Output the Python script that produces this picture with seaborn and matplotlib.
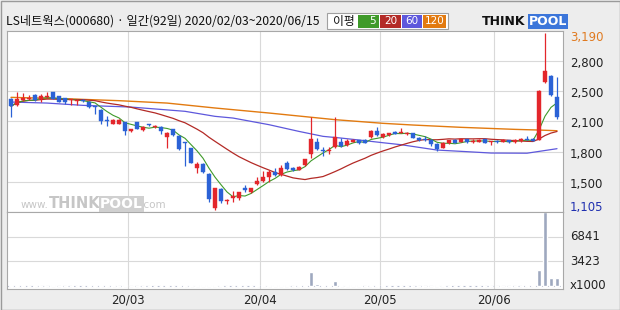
import numpy as np
import pandas as pd
import matplotlib
matplotlib.use("Agg")
import matplotlib.pyplot as plt
import matplotlib.patches as mpatches
import matplotlib.transforms as mtransforms
import seaborn as sns

# ---------------- data ----------------
opens = [2418, 2340, 2405, 2410, 2465, 2415, 2440, 2495, 2445, 2425,
         2400, 2395, 2405, 2385, 2330, 2290, 2160, 2125, 2125, 2145,
         2035, 2145, 2045, 2115, 2085, 2090, 1968, 2060, 1985, 1900,
         1840, 1605, 1650, 1535, 1133, 1357, 1215, 1250, 1250, 1370,
         1320, 1415, 1455, 1495, 1555, 1520, 1662, 1605, 1585, 1640,
         1768, 1905, 1810, 1800, 1846, 1910, 1870, 1915, 1930, 1935,
         1964, 2035, 1965, 1990, 2030, 2015, 2000, 2010, 1960, 1935,
         1935, 1890, 1840, 1895, 1935, 1910, 1940, 1915, 1915, 1940,
         1910, 1925, 1910, 1930, 1905, 1920, 1940, 1950, 1937, 2614,
         2689, 2438]
highs = [2425, 2493, 2490, 2465, 2475, 2475, 2495, 2500, 2450, 2430,
         2420, 2415, 2415, 2390, 2335, 2295, 2220, 2180, 2175, 2150,
         2065, 2150, 2095, 2120, 2115, 2095, 2025, 2065, 1990, 1905,
         1845, 1680, 1660, 1545, 1375, 1370, 1240, 1330, 1325, 1410,
         1375, 1495, 1565, 1585, 1610, 1640, 1690, 1615, 1625, 1715,
         2198, 1955, 1850, 1850, 2198, 1955, 1940, 1945, 1935, 1940,
         2055, 2080, 2010, 2015, 2035, 2075, 2025, 2015, 1965, 1980,
         1940, 1895, 1905, 1935, 1940, 1950, 1945, 1940, 1940, 1945,
         1925, 1930, 1940, 1935, 1940, 1960, 1975, 1955, 2525, 3190,
         2700, 2670]
lows = [2199, 2330, 2395, 2400, 2395, 2380, 2430, 2410, 2380, 2355,
        2350, 2340, 2380, 2310, 2240, 2120, 2093, 2120, 2120, 1995,
        2030, 2060, 2040, 2095, 2075, 2000, 1845, 1985, 1815, 1625,
        1660, 1545, 1550, 1210, 1105, 1195, 1180, 1205, 1230, 1320,
        1310, 1400, 1440, 1440, 1510, 1510, 1580, 1565, 1575, 1625,
        1720, 1810, 1750, 1770, 1840, 1850, 1860, 1905, 1890, 1895,
        1960, 1980, 1955, 1985, 2000, 2010, 1995, 1955, 1925, 1920,
        1860, 1805, 1835, 1890, 1895, 1905, 1900, 1900, 1910, 1895,
        1880, 1900, 1905, 1900, 1900, 1915, 1930, 1920, 1930, 2600,
        2455, 2185]
closes = [2328, 2418, 2425, 2425, 2405, 2445, 2450, 2418, 2385, 2385,
          2410, 2405, 2390, 2320, 2320, 2152, 2155, 2170, 2165, 2035,
          2060, 2065, 2090, 2110, 2095, 2035, 2015, 1990, 1830, 1895,
          1665, 1650, 1555, 1245, 1369, 1220, 1225, 1270, 1320, 1340,
          1370, 1455, 1500, 1560, 1525, 1605, 1595, 1575, 1615, 1710,
          1945, 1830, 1805, 1810, 1964, 1860, 1925, 1935, 1895, 1900,
          2042, 1990, 2003, 2010, 2005, 2030, 2015, 1960, 1930, 1928,
          1885, 1830, 1900, 1930, 1900, 1945, 1905, 1925, 1935, 1900,
          1915, 1905, 1935, 1905, 1935, 1945, 1935, 1925, 2512, 2747,
          2465, 2199]
volumes = [90, 80, 70, 60, 70, 60, 60, 70, 60, 60,
           60, 50, 50, 70, 80, 110, 90, 70, 60, 90,
           60, 60, 50, 50, 50, 60, 80, 60, 90, 110,
           100, 90, 80, 120, 130, 90, 60, 60, 70, 60,
           60, 80, 90, 80, 70, 90, 80, 60, 70, 110,
           1870, 300, 120, 110, 700, 120, 90, 80, 70, 60,
           160, 90, 70, 60, 60, 60, 50, 60, 60, 50,
           60, 80, 70, 60, 50, 50, 60, 50, 50, 60,
           50, 50, 50, 60, 50, 60, 70, 80, 2250, 10262,
           1170, 1170]

ma60_idx = [0, 6, 12, 20, 29, 34, 37, 43, 48, 52, 55, 59, 62, 65, 71, 76, 80, 86, 91]
ma60_val = [2379, 2367, 2340, 2320, 2270, 2211, 2191, 2113, 2034, 1976, 1956, 1925,
            1901, 1878, 1815, 1796, 1780, 1778, 1831]
ma120_idx = [0, 9, 18, 26, 34, 43, 54, 62, 67, 75, 84, 88, 91]
ma120_val = [2434, 2418, 2395, 2367, 2309, 2250, 2172, 2129, 2109, 2082, 2058, 2050, 2042]

month_labels = ["20/03", "20/04", "20/05", "20/06"]
month_start_idx = [20, 42, 62, 81]
price_tick_labels = ["2,800", "2,500", "2,100", "1,800", "1,500"]
price_max_label = "3,190"
price_min_label = "1,105"
vol_tick_labels = ["3423", "6841"]
vol_unit_label = "x1000"
title_text = "LS네트웍스(000680) · 일간(92일) 2020/02/03~2020/06/15"
legend_title = "이평"
ma_periods = ["5", "20", "60", "120"]

# ---------------- styling ----------------
sns.set_theme(style="white")
plt.rcParams['font.family'] = ['Noto Sans CJK KR', 'DejaVu Sans']

UP = "#E3262B"
DOWN = "#2B62D6"
C5, C20, C60, C120 = "#3F9A2A", "#B32A26", "#5E58DC", "#E27A10"
BG = "#EDEDED"
GRID = "#D9D9D9"
VOLC = "#9EA8BF"

W, H = 620, 310
fig = plt.figure(figsize=(W / 100, H / 100), dpi=100, facecolor=BG)

def rect(x0, y0, x1, y1):
    return [x0 / W, 1 - y1 / H, (x1 - x0) / W, (y1 - y0) / H]

axp = fig.add_axes(rect(7, 31, 563, 212))
axv = fig.add_axes(rect(7, 212, 563, 289), sharex=axp)

df = pd.DataFrame({"i": np.arange(len(closes)), "open": opens, "high": highs,
                   "low": lows, "close": closes, "volume": volumes})
df["ma5"] = df["close"].rolling(5, min_periods=1).mean()
df["ma20"] = df["close"].rolling(20, min_periods=1).mean()
ma60 = pd.DataFrame({"i": ma60_idx, "v": ma60_val})
ma120 = pd.DataFrame({"i": ma120_idx, "v": ma120_val})

ymin_data, ymax_data = min(lows), max(highs)
ppx = (ymax_data - ymin_data) / 177.5
ylo, yhi = ymin_data - 1.5 * ppx, ymax_data + 2 * ppx

for ax in (axp, axv):
    ax.set_facecolor("white")
    for s in ax.spines.values():
        s.set_color("#A8A8A8")
        s.set_linewidth(0.8)
    ax.tick_params(length=0)

axp.set_xlim(-0.67, 92)
axp.set_ylim(ylo, yhi)

# grid
for k in range(1, 6):
    axp.axhline(ylo + (yhi - ylo) * k / 6, color=GRID, lw=0.8, zorder=0)
for m in month_start_idx:
    axp.axvline(m - 0.5, color=GRID, lw=0.8, zorder=0)
    axv.axvline(m - 0.5, color=GRID, lw=0.8, zorder=0)

# watermark
wm = dict(color="#C6C6C6", zorder=0.5, transform=fig.transFigure, va="baseline",
          family="DejaVu Sans")
wy = 1 - 208 / H
fig.text(21 / W, wy, "www.", fontsize=7.5, **wm)
fig.text(49 / W, wy, "THINK", fontsize=10.5, weight="bold", **wm)
fig.text(100 / W, wy, "POOL", fontsize=10, weight="bold",
         color="white", zorder=0.6, transform=fig.transFigure, va="baseline",
         family="DejaVu Sans",
         bbox=dict(boxstyle="square,pad=0.08", fc="#D0D0D0", ec="none"))
fig.text(141 / W, wy, ".com", fontsize=7.5, **wm)

# moving averages
sns.lineplot(data=ma120, x="i", y="v", ax=axp, color=C120, lw=1.0, zorder=2)
sns.lineplot(data=ma60, x="i", y="v", ax=axp, color=C60, lw=0.9, zorder=2)
sns.lineplot(data=df, x="i", y="ma20", ax=axp, color=C20, lw=0.9, zorder=2)
sns.lineplot(data=df, x="i", y="ma5", ax=axp, color=C5, lw=0.8, zorder=2)

# candles
min_body = ppx * 1.0
for r in df.itertuples():
    col = UP if r.close >= r.open else DOWN
    axp.vlines(r.i, r.low, r.high, color=col, lw=0.9, zorder=3)
    bot = min(r.open, r.close)
    h = max(abs(r.close - r.open), min_body)
    axp.bar(r.i, h, bottom=bot, width=0.72, color=col, edgecolor=col, lw=0.3, zorder=4)

axp.set_xlabel("")
axp.set_ylabel("")
axp.set_xticks([])
axp.set_yticks([])

# volume
vmax = max(volumes)
axv.set_ylim(-vmax * 3 / 73, vmax)
for k in (1, 2):
    axv.axhline(vmax * k / 3, color=GRID, lw=0.8, zorder=0)
axv.axhline(0, color="#B8BED0", lw=0.8, ls=(0, (3, 2)), zorder=1)
axv.bar(df["i"], df["volume"], width=0.75, color=VOLC, zorder=2)
axv.set_yticks([])
axv.set_xticks([m - 0.5 for m in month_start_idx])
axv.set_xticklabels(month_labels, fontsize=8.5, family="DejaVu Sans", color="#222222")
axv.tick_params(axis="x", pad=3, length=0)
axv.set_xlabel("")
axv.set_ylabel("")

# right-side labels
tp = mtransforms.blended_transform_factory(fig.transFigure, axp.transData)
tv = mtransforms.blended_transform_factory(fig.transFigure, axv.transData)
lx = 570 / W
lab = dict(fontsize=8.5, family="DejaVu Sans", ha="left", va="center")
for k, t in enumerate(price_tick_labels):
    yv = ylo + (yhi - ylo) * (5 - k) / 6 - 2.5 * ppx
    fig.text(lx, yv, t, transform=tp, color="#222222", **lab)
fig.text(lx, ymax_data - 4.5 * ppx, price_max_label, transform=tp, color="#E07A20", **lab)
fig.text(lx, ymin_data + 3 * ppx, price_min_label, transform=tp, color="#2030B0", **lab)
for k, t in enumerate(vol_tick_labels):
    fig.text(lx, vmax * (k + 1) / 3, t, transform=tv, color="#222222", **lab)
fig.text(lx, 0, vol_unit_label, transform=tv, color="#222222", **lab)

# header
hy = 1 - 21.5 / H
fig.text(6 / W, hy, title_text, fontsize=8.8, color="#111111", va="center", ha="left")
fig.patches.append(mpatches.Rectangle((327 / W, 1 - 29.3 / H), 121 / W, 16.6 / H,
                                      transform=fig.transFigure, fc="white", ec="#A0A0A0", lw=0.8))
fig.text(333 / W, hy, legend_title, fontsize=8.5, color="#111111", va="center")
box_x = [358, 380, 402, 423]
box_w = [21, 21, 20, 23]
box_ha = ["right", "center", "center", "center"]
for bx, bw, c, t, ha in zip(box_x, box_w, [C5, C20, C60, C120], ma_periods, box_ha):
    fig.patches.append(mpatches.Rectangle((bx / W, 1 - 27.7 / H), bw / W, 12.7 / H,
                                          transform=fig.transFigure, fc=c, ec="none"))
    tx = (bx + bw - 3) / W if ha == "right" else (bx + bw / 2) / W
    fig.text(tx, hy, t, fontsize=7.5, color="white",
             ha=ha, va="center", family="DejaVu Sans")

# logo
fig.text(482 / W, hy, "THINK", fontsize=9, weight="bold", color="#111111",
         va="center", family="DejaVu Sans")
fig.text(529 / W, hy, "POOL", fontsize=9, weight="bold", color="white",
         va="center", family="DejaVu Sans",
         bbox=dict(boxstyle="square,pad=0.08", fc="#3C76DA", ec="none"))

# outer border
fig.patches.append(mpatches.Rectangle((0.5 / W, 0.5 / H), (W - 1) / W, (H - 1) / H,
                                      transform=fig.transFigure, fc="none", ec="#9A9A9A", lw=1))

fig.savefig("out.png", dpi=100, facecolor=BG)
